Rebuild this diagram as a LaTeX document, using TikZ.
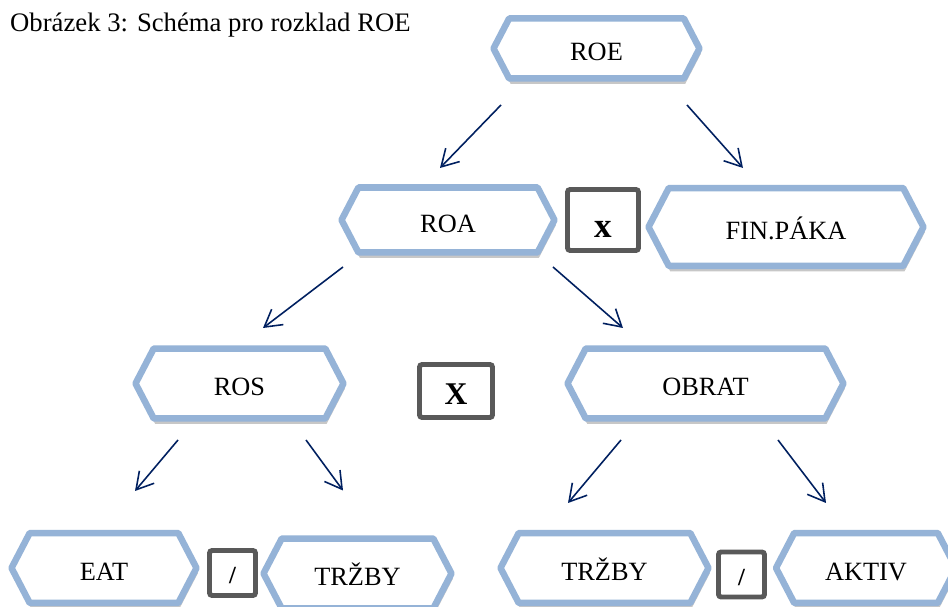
\documentclass[tikz,border=0pt]{standalone}
\usepackage{fontspec}
\setmainfont{Liberation Serif}
\usepackage{tikz}
\usetikzlibrary{shapes.symbols, arrows.meta, calc, shadows}
\definecolor{hexblue}{RGB}{149, 179, 215}
\definecolor{arrownavy}{RGB}{0, 32, 96}
\definecolor{boxgray}{RGB}{89, 89, 89}

\begin{document}
\begin{tikzpicture}[x=0.02cm, y=-0.02cm,
    ratio/.style={draw=hexblue, line width=3.7pt, line join=round, fill=white, signal, signal to=west and east, signal pointer angle=125, text height=14pt, text depth=0pt, font=\fontsize{15}{18}\selectfont, drop shadow={shadow xshift=0.8pt, shadow yshift=-3pt, opacity=0.22, fill=black}},
    opbox/.style={draw=boxgray, line width=2.8pt, fill=white, rounded corners=1.5pt, inner sep=0pt, text depth=0pt},
    arr/.style={-{Straight Barb[length=9.5pt, width=11pt]}, arrownavy, line width=0.9pt}]
        % Page
        \clip (0,0) rectangle (948,607);
        \fill[white] (0,0) rectangle (948,607);

        % Caption
        \node[anchor=base west, font=\fontsize{15.2}{18}\selectfont] (caption) at (4,32) {Obrázek 3: Schéma pro rozklad ROE};

        % Top level
        \node[ratio, minimum width=4.12cm, minimum height=1.2cm] (roe) at (596.5,48.5) {ROE};

        % Second level
        \node[ratio, minimum width=4.26cm, minimum height=1.3cm] (roa) at (448,220) {ROA};
        \node[opbox, minimum width=1.42cm, minimum height=1.22cm, font=\fontsize{20}{22}\selectfont\bfseries, text height=20pt] (krat1) at (603,220) {x};
        \node[ratio, minimum width=5.5cm, minimum height=1.56cm] (fin) at (786,227) {FIN.PÁKA};

        % Third level
        \node[ratio, minimum width=4.16cm, minimum height=1.4cm] (ros) at (239.5,383.5) {ROS};
        \node[opbox, minimum width=1.46cm, minimum height=1.06cm, font=\fontsize{18}{20}\selectfont\bfseries, text height=15.8pt] (krat2) at (456,391) {X};
        \node[ratio, minimum width=5.52cm, minimum height=1.4cm] (obrat) at (705.5,383.5) {OBRAT};

        % Bottom level
        \node[ratio, minimum width=3.7cm, minimum height=1.4cm] (eat) at (104,568) {EAT};
        \node[opbox, minimum width=0.92cm, minimum height=0.9cm, font=\fontsize{14}{16}\selectfont\bfseries, text height=12pt] (del1) at (232.5,573) {/};
        \node[ratio, minimum width=3.76cm, minimum height=1.4cm] (trzby1) at (357.5,573.5) {TRŽBY};
        \node[ratio, minimum width=4.16cm, minimum height=1.4cm] (trzby2) at (604.5,568) {TRŽBY};
        \node[opbox, minimum width=0.92cm, minimum height=0.9cm, font=\fontsize{14}{16}\selectfont\bfseries, text height=12pt] (del2) at (741.5,574.5) {/};
        \node[ratio, minimum width=3.6cm, minimum height=1.4cm] (aktiv) at (866,568) {AKTIV};

        % Arrows
        \draw[arr] ($(roe)+(-95.5,56.5)$) -- ($(roa)+(-8,-52)$);
        \draw[arr] ($(roe)+(90.5,56.5)$) -- ($(fin)+(-43,-59)$);
        \draw[arr] ($(roa)+(-105,47)$) -- ($(ros)+(23.5,-55.5)$);
        \draw[arr] ($(roa)+(105,47)$) -- ($(obrat)+(-82.5,-55.5)$);
        \draw[arr] ($(ros)+(-61.5,56.5)$) -- ($(eat)+(31,-77)$);
        \draw[arr] ($(ros)+(66.5,56.5)$) -- ($(trzby1)+(-14.5,-83)$);
        \draw[arr] ($(obrat)+(-84.5,56.5)$) -- ($(trzby2)+(-36.5,-65)$);
        \draw[arr] ($(obrat)+(72.5,56.5)$) -- ($(aktiv)+(-40,-65)$);
    \end{tikzpicture}
\end{document}
